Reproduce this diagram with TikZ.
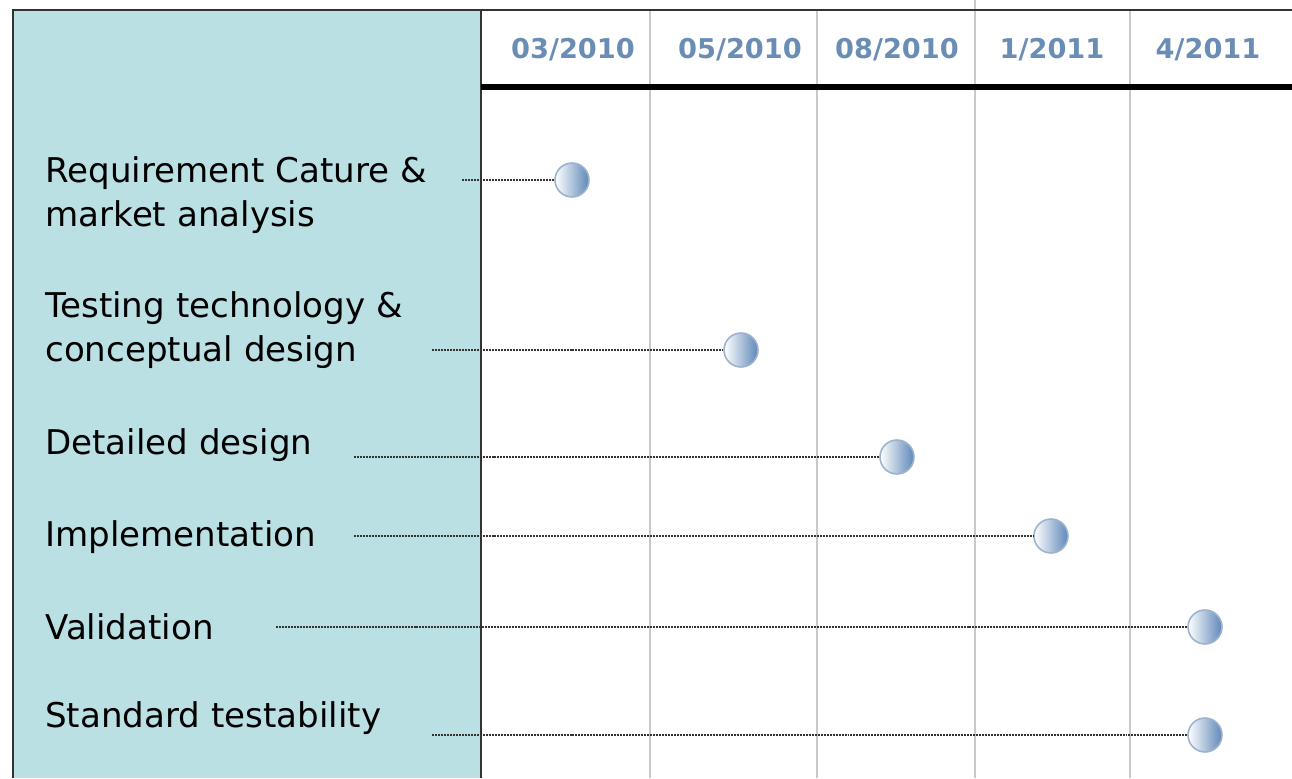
\documentclass[tikz,border=0pt]{standalone}
\usepackage{fontspec}
\setmainfont{DejaVu Sans}

\definecolor{panelcyan}{HTML}{BBE0E4}
\definecolor{dateblue}{HTML}{6A8DB6}
\definecolor{gridgray}{HTML}{C9C9C9}
\definecolor{ballblue}{HTML}{5E87B8}
\definecolor{ballrim}{HTML}{9DB3CC}

\tikzset{
  task/.style={anchor=west, align=left, inner sep=0pt, font=\fontsize{19.4}{25}\selectfont},
  datelbl/.style={font=\fontsize{15.5}{19}\selectfont\bfseries, text=dateblue},
  ball/.style={circle, minimum size=0.68cm, inner sep=0pt, draw=ballrim, line width=0.9pt,
    left color=white, right color=ballblue},
  leader/.style={draw=black!80, line width=1.6pt, dash pattern=on 1.134pt off 0.567pt},
  gridline/.style={gridgray, line width=0.8pt},
}

\begin{document}
\begin{tikzpicture}

\useasboundingbox (0,0) rectangle (25.84,-15.56);

% ========================
% LEFT PANEL AND GRID
% ========================

\fill[panelcyan] (0.26,-0.2) rectangle (9.62,-15.56);

% month columns
\draw[gridline] (13.0,-0.2) -- (13.0,-15.56);
\draw[gridline] (16.34,-0.2) -- (16.34,-15.56);
\draw[gridline] (19.5,0) -- (19.5,-15.56);
\draw[gridline] (22.6,-0.2) -- (22.6,-15.56);

% frame
\draw[black!80, line width=1.1pt] (0.26,-15.56) -- (0.26,-0.2) -- (25.84,-0.2);
\draw[black!80, line width=1.1pt] (9.62,-0.2) -- (9.62,-15.56);

% header rule
\draw[black, line width=3.4pt] (9.62,-1.74) -- (25.84,-1.74);

% ========================
% DATES
% ========================

\node[datelbl] (d1) at (11.46,-1.0) {03/2010};
\node[datelbl] (d2) at (14.8,-1.0) {05/2010};
\node[datelbl] (d3) at (17.94,-1.0) {08/2010};
\node[datelbl] (d4) at (21.04,-1.0) {1/2011};
\node[datelbl] (d5) at (24.16,-1.0) {4/2011};

% ========================
% TASKS
% ========================

\node[task] (req) at (0.9,-3.9) {Requirement Cature \&\\market analysis};
\node[task] (tech) at (0.9,-6.61) {Testing technology \&\\conceptual design};
\node[task] (detail) at (0.9,-8.9) {Detailed design};
\node[task] (impl) at (0.9,-10.74) {Implementation};
\node[task] (valid) at (0.9,-12.54) {Validation};
\node[task] (std) at (0.9,-14.36) {Standard testability};

% leader starts
\coordinate (req-s) at (9.24,-3.6);
\coordinate (tech-s) at (8.64,-7.0);
\coordinate (detail-s) at (7.08,-9.14);
\coordinate (impl-s) at (7.08,-10.72);
\coordinate (valid-s) at (5.52,-12.54);
\coordinate (std-s) at (8.64,-14.7);

% milestones
\node[ball] (req-m) at (11.44,-3.6) {};
\node[ball] (tech-m) at (14.82,-7.0) {};
\node[ball] (detail-m) at (17.94,-9.14) {};
\node[ball] (impl-m) at (21.02,-10.72) {};
\node[ball] (valid-m) at (24.1,-12.54) {};
\node[ball] (std-m) at (24.1,-14.7) {};

\draw[leader] (req-s) -- (req-m);
\draw[leader] (tech-s) -- (tech-m);
\draw[leader] (detail-s) -- (detail-m);
\draw[leader] (impl-s) -- (impl-m);
\draw[leader] (valid-s) -- (valid-m);
\draw[leader] (std-s) -- (std-m);

\end{tikzpicture}
\end{document}
